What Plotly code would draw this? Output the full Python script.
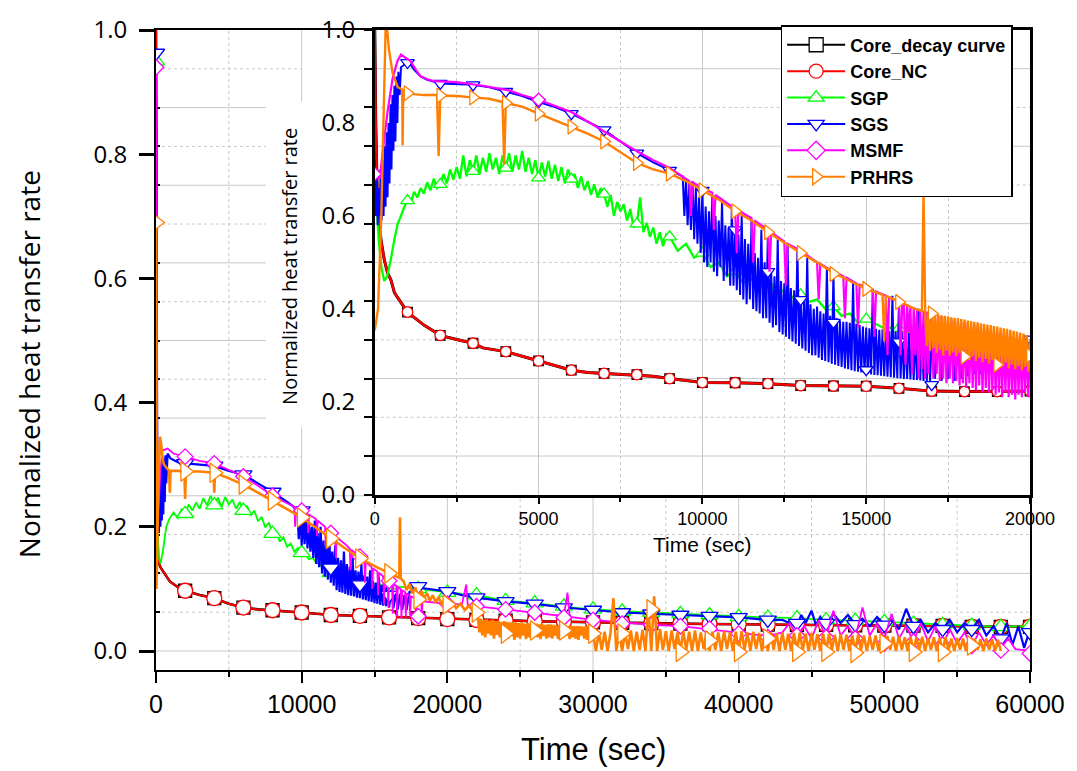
import plotly.graph_objects as go

# ------------------------------------------------------------------
# DATA  (time [s], normalized heat transfer rate)
# ------------------------------------------------------------------
# ---------- main chart (0 - 60000 s) ----------
main_core_decay = [(0, 1.0), (20, 0.6), (50, 0.32), (100, 0.18), (150, 0.144), (300, 0.135), (500, 0.128),
                   (950, 0.112), (1500, 0.103), (2000, 0.097), (3000, 0.09), (4000, 0.085), (5000, 0.076),
                   (6000, 0.07), (7000, 0.067), (8000, 0.0656), (9000, 0.064), (10000, 0.062), (12000, 0.058),
                   (14000, 0.0566), (16000, 0.054), (18000, 0.053), (20000, 0.0514), (22000, 0.05), (24000, 0.049),
                   (26000, 0.048), (28000, 0.047), (30000, 0.046), (32000, 0.0455), (34000, 0.045), (36000, 0.044),
                   (38000, 0.0435), (40000, 0.043), (44000, 0.042), (48000, 0.0415), (52000, 0.041), (56000, 0.039),
                   (60000, 0.039)]
main_core_nc = [(0, 1.0), (20, 0.6), (50, 0.32), (100, 0.18), (150, 0.144), (300, 0.135), (500, 0.128),
                (950, 0.112), (1500, 0.103), (2000, 0.097), (3000, 0.09), (4000, 0.085), (5000, 0.076),
                (6000, 0.07), (7000, 0.067), (8000, 0.0656), (9000, 0.064), (10000, 0.062), (12000, 0.058),
                (14000, 0.0566), (16000, 0.054), (18000, 0.053), (20000, 0.0514), (22000, 0.05), (24000, 0.049),
                (26000, 0.048), (28000, 0.047), (30000, 0.046), (32000, 0.0455), (34000, 0.045), (36000, 0.044),
                (38000, 0.0435), (40000, 0.043), (44000, 0.042), (48000, 0.0415), (52000, 0.041), (56000, 0.039),
                (60000, 0.039)]
main_core_marks = [(2000, 0.097), (4000, 0.085), (6000, 0.07), (8000, 0.0656), (10000, 0.062), (12000, 0.058),
                   (14000, 0.0566), (16000, 0.054), (18000, 0.053), (20000, 0.0514), (22000, 0.05), (24000, 0.049),
                   (26000, 0.048), (28000, 0.047), (30000, 0.046), (32000, 0.0455), (34000, 0.045), (36000, 0.044),
                   (38000, 0.0435), (40000, 0.043), (42000, 0.0425), (44000, 0.042), (46000, 0.042), (48000, 0.0415),
                   (50000, 0.041), (52000, 0.041), (54000, 0.0405), (56000, 0.039), (58000, 0.039), (60000, 0.039)]

main_sgp = [(0, 0.97), (40, 0.45), (100, 0.2), (200, 0.15), (320, 0.141), (500, 0.165), (700, 0.2), (900, 0.212),
            (1200, 0.223), (1500, 0.214), (1750, 0.228), (2000, 0.221), (2250, 0.236), (2500, 0.226), (2750, 0.239),
            (3000, 0.229), (3250, 0.246), (3500, 0.235), (3750, 0.25), (4000, 0.235), (4250, 0.247), (4500, 0.232),
            (4750, 0.248), (5000, 0.236), (5250, 0.244), (5500, 0.229), (5750, 0.24), (6000, 0.226), (6250, 0.234),
            (6500, 0.218), (6750, 0.226), (7000, 0.209), (7250, 0.216), (7500, 0.199), (7750, 0.207), (8000, 0.189),
            (8250, 0.193), (8500, 0.176), (8750, 0.183), (9000, 0.168), (9250, 0.173), (9500, 0.16), (9750, 0.166),
            (10000, 0.158), (10250, 0.155), (10500, 0.148), (10750, 0.15), (11000, 0.142), (11250, 0.14),
            (11500, 0.133), (11750, 0.131), (12000, 0.126), (12500, 0.12), (13000, 0.114), (13500, 0.112),
            (14000, 0.11), (15000, 0.108), (16000, 0.106), (17000, 0.103), (18000, 0.1), (19000, 0.097),
            (20000, 0.094), (21000, 0.092), (22000, 0.09), (23000, 0.085), (24000, 0.081), (25000, 0.079),
            (26000, 0.077), (27000, 0.074), (28000, 0.072), (29000, 0.069), (30000, 0.067), (32000, 0.064),
            (34000, 0.062), (36000, 0.06), (38000, 0.058), (40000, 0.055), (42000, 0.054), (44000, 0.053),
            (46000, 0.05), (48000, 0.049), (50000, 0.047), (52000, 0.044), (54000, 0.042), (56000, 0.041),
            (58000, 0.039), (60000, 0.04)]
main_sgp_marks = [(0, 0.95), (2000, 0.221), (4000, 0.235), (6000, 0.226), (8000, 0.189), (10000, 0.158),
                  (12000, 0.126), (14000, 0.11), (16000, 0.106), (18000, 0.1), (20000, 0.094), (22000, 0.09),
                  (24000, 0.081), (26000, 0.077), (28000, 0.072), (30000, 0.067), (32000, 0.064), (34000, 0.062),
                  (36000, 0.06), (38000, 0.058), (40000, 0.055), (42000, 0.054), (44000, 0.053), (46000, 0.05),
                  (48000, 0.049), (50000, 0.047), (52000, 0.044), (54000, 0.042), (56000, 0.041), (58000, 0.039),
                  (60000, 0.04)]

main_sgs = [(0, 0.963), (40, 0.5), (100, 0.2), (150, 0.26), (200, 0.19), (250, 0.29), (300, 0.2), (350, 0.3),
            (400, 0.21), (450, 0.31), (500, 0.22), (550, 0.31), (600, 0.24), (650, 0.315), (700, 0.27), (800, 0.318),
            (1000, 0.31), (1500, 0.304), (2000, 0.302), (3000, 0.3), (4000, 0.298), (5000, 0.29), (6000, 0.284),
            (7000, 0.27), (8000, 0.256), (9000, 0.24), (9700, 0.228),
            (9800, 0.18), (9900, 0.226), (10000, 0.17), (10100, 0.222), (10200, 0.172), (10300, 0.221),
            (10400, 0.165), (10500, 0.208), (10600, 0.16), (10700, 0.2), (10800, 0.15), (10900, 0.21),
            (11000, 0.14), (11100, 0.19), (11200, 0.135), (11300, 0.2), (11400, 0.125), (11500, 0.178),
            (11600, 0.12), (11700, 0.172), (11800, 0.115), (11900, 0.185), (12000, 0.11), (12100, 0.16),
            (12200, 0.105), (12300, 0.17), (12400, 0.098), (12500, 0.15), (12600, 0.095), (12700, 0.146),
            (12800, 0.094), (12900, 0.16), (13000, 0.092), (13100, 0.14), (13200, 0.09), (13300, 0.136),
            (13400, 0.089), (13500, 0.15), (13600, 0.088), (13700, 0.13), (13800, 0.086), (13900, 0.128),
            (14000, 0.085), (14100, 0.14), (14200, 0.083), (14300, 0.122), (14400, 0.082), (14500, 0.12),
            (14600, 0.08), (14700, 0.13), (14800, 0.079), (14900, 0.113), (15000, 0.077), (15100, 0.11),
            (15200, 0.076), (15300, 0.12), (15400, 0.074), (15500, 0.106), (15600, 0.073), (15700, 0.103),
            (15800, 0.072), (15900, 0.11), (16000, 0.07), (16150, 0.098), (16300, 0.069), (16450, 0.095),
            (16600, 0.067), (16750, 0.092), (16900, 0.066), (17050, 0.09), (17200, 0.066), (17400, 0.095),
            (17700, 0.1), (18000, 0.102), (19000, 0.099), (20000, 0.096), (21000, 0.09), (22000, 0.086),
            (24000, 0.08), (26000, 0.076), (28000, 0.07), (30000, 0.066), (32000, 0.062), (34000, 0.06),
            (36000, 0.058), (38000, 0.056), (40000, 0.054), (42000, 0.05), (43000, 0.05), (44000, 0.04),
            (44300, 0.058), (44600, 0.045), (45000, 0.065), (45300, 0.042), (45600, 0.055), (46000, 0.04),
            (46500, 0.06), (47000, 0.045), (47500, 0.058), (48000, 0.043), (48500, 0.052), (49000, 0.04),
            (49500, 0.055), (50000, 0.042), (50500, 0.05), (51000, 0.035), (51500, 0.068), (52000, 0.04),
            (52500, 0.05), (53000, 0.03), (53500, 0.045), (54000, 0.035), (54500, 0.05), (55000, 0.03),
            (55500, 0.045), (56000, 0.035), (56500, 0.05), (57000, 0.025), (57500, 0.04), (58000, 0.02),
            (58400, 0.045), (58800, 0.01), (59200, 0.04), (59600, 0.005), (60000, 0.035)]
main_sgs_marks = [(0, 0.963), (2000, 0.302), (4000, 0.298), (6000, 0.284), (8000, 0.256), (10000, 0.226),
                  (12000, 0.134), (14000, 0.107), (16000, 0.09), (18000, 0.104), (20000, 0.096), (22000, 0.086),
                  (24000, 0.08), (26000, 0.076), (28000, 0.07), (30000, 0.066), (32000, 0.062), (34000, 0.06),
                  (36000, 0.058), (38000, 0.056), (40000, 0.054), (42000, 0.05), (44000, 0.045), (46000, 0.045),
                  (48000, 0.043), (50000, 0.042), (52000, 0.04), (54000, 0.035), (56000, 0.035), (58000, 0.02),
                  (60000, 0.03)]

main_msmf = [(0, 0.94), (40, 0.5), (100, 0.22), (200, 0.24), (300, 0.29), (450, 0.323), (800, 0.326),
             (1200, 0.318), (2000, 0.313), (3000, 0.306), (4000, 0.302), (5000, 0.292), (6000, 0.281), (7000, 0.266),
             (8000, 0.25), (9000, 0.238), (9500, 0.232), (9550, 0.2), (9600, 0.231), (10000, 0.226), (10400, 0.221),
             (10450, 0.19), (10500, 0.22), (11000, 0.212), (11050, 0.185), (11100, 0.21), (11600, 0.2),
             (11650, 0.17), (11700, 0.198), (12000, 0.19), (12300, 0.185), (12350, 0.15), (12400, 0.183),
             (13000, 0.172), (13300, 0.165), (13350, 0.13), (13400, 0.163), (14000, 0.152), (14300, 0.145),
             (14350, 0.11), (14400, 0.143), (14800, 0.135), (14850, 0.1), (14900, 0.133), (15200, 0.128),
             (15250, 0.09), (15300, 0.126), (15600, 0.12), (15650, 0.075), (15700, 0.118), (15900, 0.115),
             (15950, 0.07), (16000, 0.113), (16200, 0.11), (16250, 0.06), (16300, 0.108), (16500, 0.105),
             (16550, 0.055), (16600, 0.103), (16800, 0.1), (16850, 0.052), (16900, 0.098), (17100, 0.095),
             (17150, 0.055), (17200, 0.093), (17400, 0.09), (17450, 0.055), (17500, 0.088), (17800, 0.085),
             (17850, 0.055), (17900, 0.083), (18200, 0.08), (18250, 0.06), (18300, 0.08), (19000, 0.078),
             (20000, 0.076), (21000, 0.075), (21300, 0.107), (21400, 0.074), (22000, 0.072), (24000, 0.067),
             (26000, 0.062), (28000, 0.056), (28250, 0.094), (28400, 0.055), (30000, 0.05), (32000, 0.046),
             (34000, 0.042), (36000, 0.04), (38000, 0.035), (40000, 0.03), (42000, 0.024), (43000, 0.03),
             (43500, 0.045), (44000, 0.025), (44500, 0.04), (45000, 0.02), (45500, 0.05), (46000, 0.022),
             (46500, 0.065), (47000, 0.025), (47500, 0.04), (48000, 0.02), (48500, 0.07), (49000, 0.025),
             (49500, 0.045), (50000, 0.02), (50500, 0.06), (51000, 0.02), (51500, 0.04), (52000, 0.015),
             (52500, 0.045), (53000, 0.015), (53500, 0.04), (54000, 0.01), (54500, 0.035), (55000, 0.012),
             (55500, 0.03), (56000, 0.008), (56500, 0.03), (57000, 0.01), (57500, 0.025), (58000, 0.005),
             (58500, 0.02), (59000, 0.003), (60000, 0.0)]
main_msmf_marks = [(0, 0.94), (2000, 0.313), (4000, 0.302), (6000, 0.281), (8000, 0.25), (10000, 0.226),
                   (12000, 0.19), (14000, 0.152), (16000, 0.113), (18000, 0.056), (20000, 0.076), (22000, 0.072),
                   (24000, 0.067), (26000, 0.062), (28000, 0.054), (30000, 0.05), (32000, 0.044), (34000, 0.042),
                   (36000, 0.04), (38000, 0.036), (40000, 0.028), (42000, 0.022), (44000, 0.025), (46000, 0.022),
                   (48000, 0.02), (50000, 0.012), (52000, 0.015), (54000, 0.01), (56000, 0.008), (58000, 0.001),
                   (60000, -0.004)]

main_prhrs_head = [(0, 0.69), (30, 0.1), (150, 0.25), (270, 0.345), (350, 0.334), (450, 0.31), (550, 0.3),
                   (700, 0.295), (900, 0.29), (950, 0.255), (1000, 0.29), (1500, 0.29), (1950, 0.289), (2000, 0.245),
                   (2050, 0.289), (3000, 0.289), (3950, 0.287), (4000, 0.255), (4050, 0.287), (5000, 0.278),
                   (6000, 0.268), (7000, 0.255), (8000, 0.242), (9000, 0.228), (10000, 0.215), (11000, 0.198),
                   (12000, 0.181), (13000, 0.165), (14000, 0.149), (15000, 0.137), (16000, 0.125), (16700, 0.118),
                   (16750, 0.215), (16800, 0.117), (17000, 0.112), (17200, 0.098), (17400, 0.108), (17600, 0.093),
                   (17800, 0.102), (18000, 0.088), (18200, 0.097), (18400, 0.085), (18600, 0.093), (18800, 0.081),
                   (19000, 0.09), (19200, 0.078), (19400, 0.087), (19600, 0.075), (19800, 0.084), (20000, 0.073),
                   (20300, 0.08), (20600, 0.069), (20900, 0.076), (21200, 0.066), (21500, 0.073), (21800, 0.062)]
# samples every 100 s from 22000 s to 29900 s
main_prhrs_band1 = [0.066, 0.055, 0.03, 0.052, 0.025, 0.05, 0.022, 0.051, 0.028, 0.049,
                    0.025, 0.05, 0.02, 0.048, 0.026, 0.049, 0.022, 0.047, 0.02, 0.048,
                    0.025, 0.047, 0.02, 0.046, 0.024, 0.047, 0.018, 0.046, 0.022, 0.045,
                    0.02, 0.046, 0.025, 0.044, 0.019, 0.045, 0.022, 0.044, 0.02, 0.045,
                    0.03, 0.044, 0.022, 0.043, 0.019, 0.044, 0.024, 0.042, 0.02, 0.043,
                    0.022, 0.043, 0.02, 0.042, 0.025, 0.041, 0.019, 0.042, 0.022, 0.041,
                    0.022, 0.041, 0.025, 0.04, 0.019, 0.041, 0.022, 0.04, 0.02, 0.04,
                    0.018, 0.04, 0.025, 0.039, 0.02, 0.04, 0.018, 0.038, 0.022, 0.036]
# samples every 200 s from 30000 s to 58000 s
main_prhrs_band2 = [0.028, 0.0, 0.03, 0.002, 0.031, 0.0, 0.029, 0.085, 0.0, 0.032,
                    0.0, 0.03, 0.003, 0.033, 0.0, 0.031, 0.002, 0.034, 0.0, 0.07,
                    0.0, 0.088, 0.0, 0.035, 0.002, 0.032, 0.0, 0.033, 0.003, 0.03,
                    0.0, 0.032, 0.002, 0.031, 0.0, 0.033, 0.0, 0.03, 0.003, 0.032,
                    0.0, 0.031, 0.002, 0.03, 0.0, 0.032, 0.003, 0.03, 0.0, 0.031,
                    0.0, 0.032, 0.002, 0.03, 0.0, 0.031, 0.003, 0.029, 0.0, 0.03,
                    0.0, 0.03, 0.002, 0.029, 0.0, 0.03, 0.002, 0.028, 0.0, 0.029,
                    0.0, 0.03, 0.001, 0.028, 0.0, 0.029, 0.002, 0.027, 0.0, 0.028,
                    0.0, 0.028, 0.002, 0.026, 0.0, 0.027, 0.002, 0.026, 0.0, 0.025,
                    0.0, 0.026, 0.002, 0.025, 0.0, 0.024, 0.002, 0.025, 0.0, 0.024,
                    0.0, 0.024, 0.002, 0.023, 0.0, 0.024, 0.002, 0.022, 0.0, 0.023,
                    0.0, 0.022, 0.002, 0.023, 0.0, 0.021, 0.002, 0.022, 0.0, 0.021,
                    0.0, 0.022, 0.002, 0.02, 0.0, 0.021, 0.002, 0.02, 0.0, 0.02,
                    0.0, 0.02, 0.002, 0.019, 0.0, 0.02, 0.002, 0.019, 0.0, 0.018,
                    0.0]
main_prhrs = (main_prhrs_head
              + list(zip(range(22000, 30000, 100), main_prhrs_band1))
              + list(zip(range(30000, 58001, 200), main_prhrs_band2)))
main_prhrs_marks = [(0, 0.69), (2000, 0.289), (4000, 0.287), (6000, 0.268), (8000, 0.242), (10000, 0.215),
                    (12000, 0.181), (14000, 0.149), (16000, 0.125), (18000, 0.083), (20000, 0.075), (22000, 0.062),
                    (24000, 0.028), (26000, 0.033), (28000, 0.033), (30000, 0.028), (32000, 0.028), (34000, 0.067),
                    (36000, -0.0015), (38000, 0.017), (40000, -0.0015), (42000, 0.02), (44000, -0.0015),
                    (46000, -0.0015), (48000, -0.003), (50000, 0.012), (52000, -0.0015), (54000, -0.0015),
                    (56000, 0.009)]

# ---------- inset chart (0 - 20000 s) ----------
inset_core_decay = [(0, 1.0), (30, 0.8), (80, 0.64), (190, 0.548), (290, 0.506), (390, 0.477), (490, 0.463),
                    (600, 0.435), (700, 0.424), (850, 0.407), (1000, 0.393), (1500, 0.365), (2000, 0.343),
                    (2500, 0.334), (3000, 0.326), (3300, 0.316), (3600, 0.313), (4000, 0.308), (4500, 0.298),
                    (5000, 0.288), (5500, 0.278), (5800, 0.273), (6000, 0.268), (6500, 0.263), (7000, 0.261),
                    (7500, 0.26), (8000, 0.2585), (8500, 0.255), (9000, 0.25), (10000, 0.2415), (11000, 0.241),
                    (12000, 0.239), (13000, 0.235), (14000, 0.234), (15000, 0.2337), (16000, 0.229), (17000, 0.223),
                    (18000, 0.222), (19000, 0.222), (20000, 0.223)]
inset_core_nc = [(0, 1.0), (30, 0.8), (80, 0.64), (190, 0.548), (290, 0.506), (390, 0.477), (490, 0.463),
                 (600, 0.435), (700, 0.424), (850, 0.407), (1000, 0.393), (1500, 0.365), (2000, 0.343),
                 (2500, 0.334), (3000, 0.326), (3300, 0.316), (3600, 0.313), (4000, 0.308), (4500, 0.298),
                 (5000, 0.288), (5500, 0.278), (5800, 0.273), (6000, 0.268), (6500, 0.263), (7000, 0.261),
                 (7500, 0.26), (8000, 0.2585), (8500, 0.255), (9000, 0.25), (10000, 0.2415), (11000, 0.241),
                 (12000, 0.239), (13000, 0.235), (14000, 0.234), (15000, 0.2337), (16000, 0.229), (17000, 0.223),
                 (18000, 0.222), (19000, 0.222), (20000, 0.223)]
inset_core_marks = [(1000, 0.393), (2000, 0.343), (3000, 0.326), (4000, 0.308), (5000, 0.288), (6000, 0.268),
                    (7000, 0.261), (8000, 0.2585), (9000, 0.25), (10000, 0.2415), (11000, 0.241), (12000, 0.239),
                    (13000, 0.235), (14000, 0.234), (15000, 0.2337), (16000, 0.229), (17000, 0.223),
                    (18000, 0.222), (19000, 0.222), (20000, 0.223)]

inset_sgp = [(0, 0.69), (60, 0.62), (120, 0.55), (200, 0.49), (290, 0.46), (380, 0.47), (490, 0.506), (600, 0.55),
             (700, 0.583), (800, 0.6), (900, 0.619), (1000, 0.633), (1100, 0.628), (1200, 0.652), (1300, 0.64),
             (1400, 0.66), (1500, 0.648), (1600, 0.672), (1700, 0.655), (1800, 0.68), (1900, 0.66), (2000, 0.668),
             (2100, 0.69), (2200, 0.67), (2300, 0.7), (2400, 0.678), (2500, 0.705), (2600, 0.68), (2700, 0.73),
             (2800, 0.685), (2900, 0.72), (3000, 0.696), (3100, 0.73), (3200, 0.69), (3300, 0.725), (3400, 0.695),
             (3500, 0.735), (3600, 0.7), (3700, 0.725), (3800, 0.69), (3900, 0.73), (4000, 0.703), (4100, 0.735),
             (4200, 0.695), (4300, 0.73), (4400, 0.7), (4500, 0.74), (4600, 0.695), (4700, 0.725), (4800, 0.69),
             (4900, 0.72), (5000, 0.682), (5100, 0.715), (5200, 0.685), (5300, 0.718), (5400, 0.68), (5500, 0.71),
             (5600, 0.675), (5700, 0.705), (5800, 0.67), (5900, 0.7), (6000, 0.679), (6100, 0.69), (6200, 0.66),
             (6300, 0.685), (6400, 0.655), (6500, 0.675), (6600, 0.645), (6700, 0.668), (6800, 0.64),
             (6900, 0.66), (7000, 0.647), (7100, 0.62), (7200, 0.645), (7300, 0.6), (7400, 0.63), (7500, 0.61),
             (7600, 0.625), (7700, 0.59), (7800, 0.615), (7900, 0.575), (8000, 0.583), (8100, 0.64),
             (8200, 0.565), (8300, 0.585), (8400, 0.555), (8500, 0.575), (8600, 0.54), (8700, 0.565),
             (8800, 0.535), (8900, 0.56), (9000, 0.555), (9250, 0.525), (9500, 0.54), (9750, 0.51), (10000, 0.52),
             (10250, 0.49), (10500, 0.5), (10750, 0.47), (11000, 0.48), (11250, 0.455), (11500, 0.465),
             (11750, 0.445), (12000, 0.452), (12250, 0.435), (12500, 0.44), (12750, 0.425), (13000, 0.43),
             (13250, 0.415), (13500, 0.42), (13750, 0.4), (14000, 0.405), (14250, 0.385), (14500, 0.39),
             (14750, 0.37), (15000, 0.378), (15500, 0.36), (16000, 0.358), (16500, 0.345), (17000, 0.34),
             (17500, 0.328), (18000, 0.328), (18500, 0.318), (19000, 0.322), (19500, 0.312), (20000, 0.315)]
inset_sgp_marks = [(1000, 0.633), (2000, 0.668), (3000, 0.696), (4000, 0.703), (5000, 0.682), (6000, 0.679),
                   (7000, 0.647), (8000, 0.583), (9000, 0.555), (10000, 0.52), (11000, 0.48), (12000, 0.452),
                   (13000, 0.43), (14000, 0.405), (15000, 0.378), (16000, 0.358), (17000, 0.34), (18000, 0.328),
                   (19000, 0.322), (20000, 0.315)]

inset_sgs_head = [(0, 0.72), (30, 0.6), (60, 0.7), (90, 0.58), (120, 0.66), (150, 0.6), (180, 0.7), (210, 0.59),
                  (240, 0.72), (270, 0.6), (300, 0.75), (330, 0.62), (360, 0.78), (390, 0.64), (420, 0.8),
                  (450, 0.67), (480, 0.84), (510, 0.7), (540, 0.86), (570, 0.74), (600, 0.88), (630, 0.76),
                  (660, 0.9), (690, 0.8), (720, 0.91), (760, 0.86), (800, 0.92), (900, 0.925), (1000, 0.93),
                  (1100, 0.925), (1200, 0.915), (1400, 0.9), (1600, 0.893), (2000, 0.885), (2500, 0.884),
                  (3000, 0.882), (3500, 0.877), (4000, 0.868), (4500, 0.858), (5000, 0.845), (5500, 0.834),
                  (6000, 0.82), (6500, 0.803), (7000, 0.785), (7500, 0.76), (8000, 0.735), (8500, 0.715),
                  (9000, 0.698)]
# samples every 50 s from 9400 s to 16950 s
inset_sgs_dense = [0.685, 0.6, 0.68, 0.58, 0.67, 0.57, 0.675, 0.55, 0.66, 0.54, 0.64, 0.52,
                   0.655, 0.5, 0.62, 0.49, 0.61, 0.5, 0.645, 0.48, 0.6, 0.47, 0.59, 0.49, 0.63, 0.46, 0.58, 0.47,
                   0.575, 0.45, 0.62, 0.45,
                   0.57, 0.44, 0.56, 0.43, 0.6, 0.42, 0.55, 0.41, 0.54, 0.42, 0.59, 0.4, 0.52, 0.395, 0.51, 0.39,
                   0.57, 0.38, 0.5, 0.38,
                   0.565, 0.37, 0.48, 0.36, 0.47, 0.365, 0.55, 0.35, 0.46, 0.345, 0.455, 0.34, 0.54, 0.335, 0.445,
                   0.33, 0.44, 0.325, 0.53, 0.32,
                   0.42, 0.315, 0.415, 0.31, 0.51, 0.305, 0.41, 0.3, 0.4, 0.3, 0.405, 0.295, 0.395, 0.29, 0.39,
                   0.288, 0.49, 0.285, 0.385, 0.282,
                   0.478, 0.28, 0.38, 0.277, 0.375, 0.275, 0.372, 0.272, 0.372, 0.27, 0.37, 0.268, 0.458, 0.266,
                   0.368, 0.265, 0.365, 0.263, 0.362, 0.262,
                   0.36, 0.26, 0.358, 0.259, 0.443, 0.258, 0.357, 0.257, 0.355, 0.256, 0.356, 0.255, 0.354, 0.254,
                   0.352, 0.253, 0.428, 0.252, 0.351, 0.251,
                   0.415, 0.25, 0.35, 0.249, 0.348, 0.249, 0.348, 0.248, 0.347, 0.247, 0.346, 0.247, 0.4, 0.246,
                   0.345, 0.245, 0.344, 0.245, 0.343, 0.244]
# samples every 100 s from 17000 s to 20000 s
inset_sgs_tail = [0.34, 0.25, 0.37, 0.245, 0.34, 0.25, 0.36, 0.245, 0.335, 0.25, 0.355, 0.255, 0.33, 0.26, 0.35,
                  0.26, 0.33, 0.27, 0.345, 0.27, 0.335, 0.28, 0.34, 0.28, 0.335, 0.29, 0.338, 0.3, 0.336, 0.31,
                  0.335]
inset_sgs = (inset_sgs_head + list(zip(range(9400, 17000, 50), inset_sgs_dense))
             + list(zip(range(17000, 20001, 100), inset_sgs_tail)))
inset_sgs_marks = [(0, 0.69), (1000, 0.93), (2000, 0.885), (3000, 0.882), (4000, 0.868), (5000, 0.845),
                   (6000, 0.82), (7000, 0.785), (8000, 0.735), (9000, 0.698), (10000, 0.655), (11000, 0.57),
                   (12000, 0.48), (13000, 0.42), (14000, 0.371), (15000, 0.269), (16000, 0.329), (17000, 0.237),
                   (18000, 0.3), (19000, 0.33), (20000, 0.335)]

inset_msmf_head = [(0, 0.69), (150, 0.68), (290, 0.767), (390, 0.824), (540, 0.894), (690, 0.933), (800, 0.947),
                   (950, 0.94), (1090, 0.933), (1250, 0.915), (1390, 0.901), (1600, 0.894), (1800, 0.89),
                   (2500, 0.888), (3300, 0.88), (4100, 0.87), (4500, 0.86), (5000, 0.85), (5500, 0.836),
                   (6000, 0.8235), (6500, 0.803), (7000, 0.781), (7500, 0.76), (8000, 0.739), (8500, 0.72),
                   (9000, 0.703), (9500, 0.68), (9600, 0.675), (9650, 0.6), (9700, 0.672), (10000, 0.66),
                   (10300, 0.65), (10350, 0.57), (10400, 0.645), (11000, 0.615), (11050, 0.52), (11100, 0.612),
                   (11500, 0.595), (11550, 0.5), (11600, 0.59), (12000, 0.57), (12050, 0.48), (12100, 0.565),
                   (12500, 0.545), (12550, 0.45), (12600, 0.54), (13000, 0.525), (13500, 0.5), (13550, 0.42),
                   (13600, 0.497), (14000, 0.48), (14300, 0.47), (14350, 0.38), (14400, 0.467), (14700, 0.455),
                   (14750, 0.36), (14800, 0.452), (15200, 0.44), (15250, 0.34), (15300, 0.437), (15600, 0.428),
                   (15650, 0.3), (15700, 0.425)]
# samples every 50 s from 16000 s to 19950 s
inset_msmf_dense = [0.415, 0.3, 0.41, 0.412, 0.28, 0.41, 0.35, 0.405, 0.26, 0.403, 0.3, 0.4, 0.25, 0.398, 0.27,
                    0.396, 0.25, 0.394, 0.26, 0.392,
                    0.39, 0.25, 0.388, 0.26, 0.386, 0.245, 0.384, 0.25, 0.382, 0.24, 0.38, 0.25, 0.378, 0.24, 0.376,
                    0.245, 0.374, 0.235, 0.372, 0.24,
                    0.37, 0.23, 0.368, 0.24, 0.366, 0.23, 0.364, 0.225, 0.362, 0.235, 0.36, 0.22, 0.358, 0.23, 0.356,
                    0.22, 0.354, 0.225, 0.352, 0.215,
                    0.35, 0.22, 0.348, 0.21, 0.346, 0.22, 0.344, 0.21, 0.342, 0.215, 0.34, 0.205, 0.338, 0.215,
                    0.336, 0.21, 0.334, 0.22, 0.332, 0.21]
inset_msmf = inset_msmf_head + list(zip(range(16000, 20000, 50), inset_msmf_dense)) + [(20000, 0.33)]
inset_msmf_marks = [(0, 0.69), (5000, 0.85)]

inset_prhrs_head = [(0, 0.354), (100, 0.4), (200, 0.6), (280, 0.85), (330, 1.0), (380, 1.0), (430, 0.96),
                    (540, 0.909), (700, 0.877), (840, 0.872), (850, 0.752), (870, 0.87), (1000, 0.866),
                    (1200, 0.862), (1500, 0.86), (1900, 0.86), (1950, 0.729), (2000, 0.859), (2500, 0.858),
                    (3000, 0.855), (3500, 0.852), (3900, 0.845), (3950, 0.71), (4000, 0.843), (4500, 0.835),
                    (5000, 0.82), (5500, 0.806), (6000, 0.792), (6500, 0.777), (7000, 0.76), (7500, 0.737),
                    (8000, 0.714), (8500, 0.7), (9000, 0.691), (9500, 0.675), (10000, 0.655), (10500, 0.635),
                    (11000, 0.61), (11500, 0.59), (12000, 0.565), (12500, 0.543), (13000, 0.52), (13500, 0.5),
                    (14000, 0.478), (14500, 0.46), (15000, 0.443), (15500, 0.43), (15550, 0.33), (15600, 0.428),
                    (16000, 0.415), (16500, 0.4), (16700, 0.395), (16750, 0.65), (16800, 0.393)]
# samples every 50 s from 16850 s to 20000 s
inset_prhrs_dense = [0.32, 0.392, 0.31, 0.39, 0.315, 0.389, 0.305, 0.388, 0.312, 0.386, 0.3, 0.385, 0.31, 0.384,
                     0.3, 0.382, 0.306, 0.381, 0.298, 0.38,
                     0.305, 0.378, 0.295, 0.377, 0.3, 0.375, 0.29, 0.374, 0.298, 0.372, 0.288, 0.371, 0.295, 0.369,
                     0.285, 0.368, 0.292, 0.366, 0.282, 0.365,
                     0.29, 0.363, 0.28, 0.362, 0.287, 0.36, 0.276, 0.358, 0.284, 0.357, 0.272, 0.355, 0.28, 0.353,
                     0.27, 0.351, 0.277, 0.349, 0.268, 0.347,
                     0.275, 0.343, 0.265, 0.335]
inset_prhrs = inset_prhrs_head + list(zip(range(16850, 20001, 50), inset_prhrs_dense))
inset_prhrs_marks = [(1000, 0.864), (2000, 0.859), (3000, 0.855), (4000, 0.843), (5000, 0.82), (6000, 0.792),
                     (7000, 0.76), (8000, 0.714), (9000, 0.691), (10000, 0.655), (11000, 0.61), (12000, 0.565),
                     (13000, 0.52), (14000, 0.475), (15000, 0.443), (16000, 0.415), (17000, 0.39), (18000, 0.297),
                     (19000, 0.28), (20000, 0.3)]

series_names = ["Core_decay curve", "Core_NC", "SGP", "SGS", "MSMF", "PRHRS"]
x_tick_main = [0, 10000, 20000, 30000, 40000, 50000, 60000]
x_tick_inset = [0, 5000, 10000, 15000, 20000]
y_tick_labels = [0.0, 0.2, 0.4, 0.6, 0.8, 1.0]

# ------------------------------------------------------------------
# STYLE
# ------------------------------------------------------------------
colors = ["#000000", "#ff0000", "#00ff00", "#0000ff", "#ff00ff", "#ff8000"]
symbols = ["square", "circle", "triangle-up", "triangle-down", "diamond", "triangle-right"]
main_msize = [13, 15, 15, 15, 12, 17]
inset_msize = [9.5, 10.5, 12, 12, 10, 13]
main_lw = [2.6, 2.0, 1.8, 2.2, 1.8, 2.6]
inset_lw = [3.0, 2.4, 2.3, 2.0, 2.2, 2.4]

ARIAL = "Liberation Sans, Arial, sans-serif"
SEGOE = "Open Sans, Noto Sans, sans-serif"
GRID = "#c8c8c8"

main_data = [(main_core_decay, main_core_marks), (main_core_nc, main_core_marks), (main_sgp, main_sgp_marks),
             (main_sgs, main_sgs_marks), (main_msmf, main_msmf_marks), (main_prhrs, main_prhrs_marks)]
inset_data = [(inset_core_decay, inset_core_marks), (inset_core_nc, inset_core_marks),
              (inset_sgp, inset_sgp_marks), (inset_sgs, inset_sgs_marks), (inset_msmf, inset_msmf_marks),
              (inset_prhrs, inset_prhrs_marks)]


def split(pairs):
    return [p[0] for p in pairs], [p[1] for p in pairs]


fig = go.Figure()


def add_series(data, xa, ya, sizes, widths):
    for i, (line_pts, mark_pts) in enumerate(data):
        lx, ly = split(line_pts)
        fig.add_trace(go.Scatter(x=lx, y=ly, mode="lines", xaxis=xa, yaxis=ya,
                                 line=dict(color=colors[i], width=widths[i]),
                                 showlegend=False, hoverinfo="skip"))
        mx, my = split(mark_pts)
        fig.add_trace(go.Scatter(x=mx, y=my, mode="markers", xaxis=xa, yaxis=ya,
                                 marker=dict(symbol=symbols[i], size=sizes[i], color="white",
                                             line=dict(color=colors[i], width=1.3)),
                                 showlegend=False, hoverinfo="skip"))


add_series(main_data, "x", "y", main_msize, main_lw)
add_series(inset_data, "x2", "y2", inset_msize, inset_lw)

# legend entries
for i, name in enumerate(series_names):
    fig.add_trace(go.Scatter(x=[None], y=[None], mode="lines+markers", name=name, xaxis="x", yaxis="y",
                             line=dict(color=colors[i], width=2),
                             marker=dict(symbol=symbols[i], size=14, color="white",
                                         line=dict(color=colors[i], width=1.3))))

# ------------------------------------------------------------------
# grid lines (main grid stops where the inset's label panel sits)
# ------------------------------------------------------------------
shapes = []


def hline(xr, yr, y, x0, x1, dash):
    shapes.append(dict(type="line", xref=xr, yref=yr, x0=x0, x1=x1, y0=y, y1=y, layer="below",
                       line=dict(color=GRID, width=1, dash=dash)))


def vline(xr, yr, x, y0, y1, dash):
    shapes.append(dict(type="line", xref=xr, yref=yr, x0=x, x1=x, y0=y0, y1=y1, layer="below",
                       line=dict(color=GRID, width=1, dash=dash)))


main_grid_h = [(0.0, 60000, "solid"), (0.0625, 60000, "dot"), (0.125, 60000, "solid"), (0.1875, 60000, "dot"),
               (0.25, 60000, "solid"), (0.3125, 10000, "dot"), (0.375, 7540, "solid"), (0.4375, 7540, "dot"),
               (0.5, 7540, "solid"), (0.5625, 7540, "dot"), (0.625, 7540, "solid"), (0.6875, 7540, "dot"),
               (0.75, 7540, "solid"), (0.8125, 7540, "dot"), (0.875, 7540, "solid"), (0.9375, 10000, "dot")]
for y, xend, dash in main_grid_h:
    hline("x", "y", y, 0, xend, dash)
for x in [5000, 15000, 25000, 35000, 45000, 55000]:
    vline("x", "y", x, -0.0306, 1.0, "dot")
for x in [20000, 30000, 40000, 50000]:
    vline("x", "y", x, -0.0306, 1.0, "solid")
vline("x", "y", 10000, -0.0306, 0.36, "solid")
vline("x", "y", 10000, 0.885, 1.0, "solid")

inset_grid_solid = [1 / 12, 3 / 12, 5 / 12, 7 / 12, 9 / 12, 11 / 12]
inset_grid_dot = [2 / 12, 4 / 12, 6 / 12, 8 / 12, 10 / 12]
for v in inset_grid_solid:
    hline("x2", "y2", v, 0, 20000, "solid")
for v in inset_grid_dot:
    hline("x2", "y2", v, 0, 20000, "dot")

fig.update_layout(
    width=1077, height=771, autosize=False,
    margin=dict(l=156, r=38, t=20, b=101, pad=0),
    paper_bgcolor="white", plot_bgcolor="white",
    hovermode=False,
    shapes=shapes,
    legend=dict(x=0.7147, y=1.0077, xanchor="left", yanchor="top", bgcolor="white",
                bordercolor="black", borderwidth=1.5, itemsizing="trace", itemwidth=58,
                tracegroupgap=0,
                font=dict(family=ARIAL, size=18, color="black", weight="bold")),
    xaxis=dict(domain=[0, 1], anchor="y", range=[0, 60000], tickmode="array", tickvals=x_tick_main,
               tickformat="d", ticks="outside", ticklen=11, tickwidth=2, tickcolor="black",
               showline=True, linecolor="black", linewidth=2, mirror=True, zeroline=False,
               showgrid=False, layer="below traces",
               tickfont=dict(family=ARIAL, size=25, color="black"),
               minor=dict(tickmode="array", tickvals=[5000, 15000, 25000, 35000, 45000, 55000],
                          ticks="outside", ticklen=5, tickwidth=1.5, tickcolor="black", showgrid=False)),
    yaxis=dict(domain=[0, 1], anchor="x", range=[-0.0306, 1.0], tickmode="array", tickvals=y_tick_labels,
               tickformat=".1f", ticks="outside", ticklen=15, tickwidth=2.5, tickcolor="black",
               showline=True, linecolor="black", linewidth=2, mirror=True, zeroline=False,
               showgrid=False, layer="below traces", ticklabelstandoff=7,
               tickfont=dict(family=SEGOE, size=24, color="black"),
               minor=dict(tickmode="array",
                          tickvals=[0.0625, 0.125, 0.1875, 0.25, 0.3125, 0.375, 0.4375, 0.5, 0.5625, 0.625,
                                    0.6875, 0.75, 0.8125, 0.875, 0.9375],
                          ticks="inside", ticklen=4, tickwidth=1.5, tickcolor="black", showgrid=False)),
    xaxis2=dict(domain=[0.2503, 1.0], anchor="y2", range=[0, 20000], tickmode="array", tickvals=x_tick_inset,
                tickformat="d", ticks="outside", ticklen=6, tickwidth=2, tickcolor="black",
                showline=True, linecolor="black", linewidth=2.5, mirror=True, zeroline=False,
                showgrid=True, gridcolor=GRID, gridwidth=1,
                tickfont=dict(family=ARIAL, size=18, color="black"),
                minor=dict(tickmode="array", tickvals=[2500, 7500, 12500, 17500], ticks="outside", ticklen=4,
                           tickwidth=1.5, tickcolor="black", showgrid=True, gridcolor=GRID, griddash="dot",
                           gridwidth=1)),
    yaxis2=dict(domain=[0.2738, 1.0], anchor="x2", range=[0, 1.0], tickmode="array", tickvals=y_tick_labels,
                tickformat=".1f", ticks="", showline=True, linecolor="black", linewidth=2.5, mirror=True,
                zeroline=False, showgrid=False, ticklabelstandoff=12,
                tickfont=dict(family=SEGOE, size=24, color="black"),
                minor=dict(tickmode="array", tickvals=inset_grid_solid + inset_grid_dot + [0.0, 1.0],
                           ticks="outside", ticklen=8, tickwidth=2, tickcolor="black", showgrid=False)),
    annotations=[
        dict(text="Time (sec)", xref="paper", yref="paper", x=0.5006, y=-0.1246, showarrow=False,
             xanchor="center", yanchor="middle", font=dict(family=ARIAL, size=31, color="black")),
        dict(text="Normalized heat transfer rate", xref="paper", yref="paper", x=-0.146, y=0.4785,
             showarrow=False, textangle=-90, xanchor="center", yanchor="middle",
             font=dict(family=SEGOE, size=28, color="black")),
        dict(text="Time (sec)", xref="paper", yref="paper", x=0.6251, y=0.1954, showarrow=False,
             xanchor="center", yanchor="middle", font=dict(family=ARIAL, size=21, color="black")),
        dict(text="Normalized heat transfer rate", xref="paper", yref="paper", x=0.1529, y=0.6308,
             showarrow=False, textangle=-90, xanchor="center", yanchor="middle",
             font=dict(family=SEGOE, size=20, color="black")),
    ],
)

fig.write_html("out.html")
